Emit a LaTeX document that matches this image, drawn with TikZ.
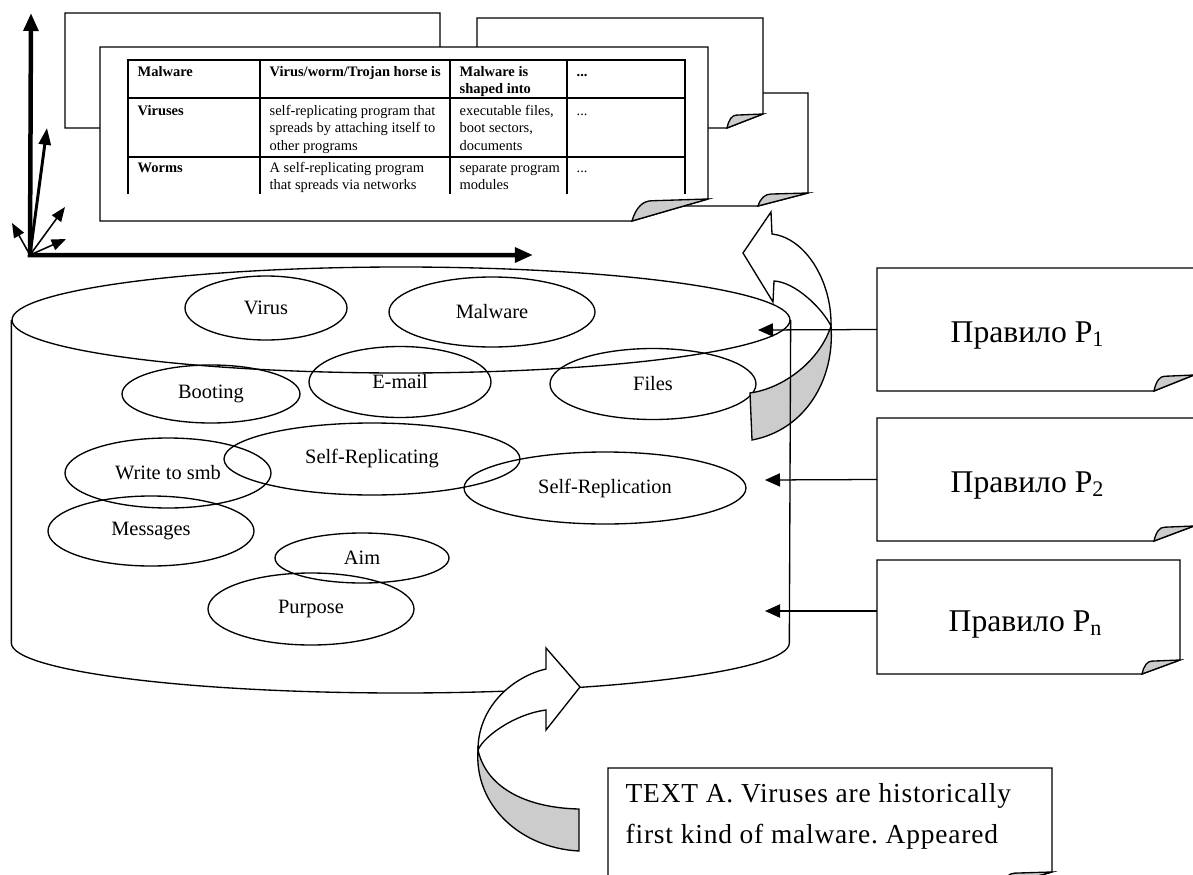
\documentclass[tikz,border=0pt]{standalone}
\usepackage{fontspec}
\setmainfont{Liberation Serif}
\newfontfamily\notefamily[LetterSpace=3]{Liberation Serif}
\usetikzlibrary{arrows.meta,shapes.geometric,calc}
\frenchspacing

\newcommand{\px}{0.025cm}
\newcommand{\termfont}{\fontsize{14.5}{17}\selectfont}
\newcommand{\rulefont}{\fontsize{22.5}{27}\selectfont}
\newcommand{\cellfont}{\fontsize{10.3}{12.54}\selectfont}
\newcommand{\notefont}{\notefamily\fontsize{19.5}{29.8}\selectfont}
\newcommand{\celltext}[1]{\parbox[t]{5cm}{\raggedright #1}}

% sheet with a turned-up corner: #1 node, #2 and #3 size of the fold
\newcommand{\foldedsheet}[3]{%
  \draw[fill=white] (#1.north west) -- (#1.north east)
    -- ($(#1.south east)+(0,-#3)$) -- ($(#1.south east)+(-#2,0)$)
    -- (#1.south west) -- cycle;
  \draw[fill=black!20] ($(#1.south east)+(-#2,0)$)
    .. controls ($(#1.south east)+(-0.95*#2,-0.6*#3)$) and ($(#1.south east)+(-0.86*#2,-0.92*#3)$)
    .. ($(#1.south east)+(-0.74*#2,-0.92*#3)$)
    -- ($(#1.south east)+(0,-#3)$) -- cycle;
}

\begin{document}
\begin{tikzpicture}[x=\px, y=-\px, line width=0.95pt]
  \tikzstyle{term}=[draw, ellipse, inner sep=0pt, font=\termfont]
  \tikzstyle{sheet}=[inner sep=0pt, outer sep=0pt, anchor=north west]
  \tikzstyle{cell}=[anchor=base west, inner sep=0pt, font=\cellfont]
  \tikzstyle{rulelabel}=[anchor=base west, inner sep=0pt, font=\rulefont]
  \tikzstyle{link}=[line width=0.9pt, -{Triangle[length=0.375cm,width=0.33cm]}]
  \tikzstyle{tablerule}=[line width=2pt]

  \useasboundingbox (0,0) rectangle (1193,875);

  % axes in the corner
  \coordinate (o) at (30,255);
  \coordinate (ytop) at (31,13);
  \coordinate (xend) at (533,255);
  \draw[line width=3.2pt, {Triangle[length=0.45cm,width=0.36cm]}-{Triangle[length=0.45cm,width=0.36cm]}]
    (ytop) -- (o) -- (xend);
  \coordinate (d1) at (47,128);
  \draw[line width=2.1pt, -{Triangle[length=0.42cm,width=0.3cm]}] (o) -- (d1);
  \coordinate (d2) at (65,207);
  \coordinate (d3) at (66,239);
  \coordinate (d4) at (12,223);
  \foreach \i in {2,...,4}{
  \draw[line width=1.1pt, -{Triangle[length=0.36cm,width=0.28cm]}] (o) -- (d\i);
  }

  % pile of sheets
  \node[sheet, minimum width=288*\px, minimum height=113*\px] (sheet3) at (520,93) {};
  \foldedsheet{sheet3}{50}{13}
  \node[sheet, minimum width=375*\px, minimum height=115*\px] (sheet1) at (65,13) {};
  \foldedsheet{sheet1}{40}{14}
  \node[sheet, minimum width=286*\px, minimum height=110*\px] (sheet2) at (477,18) {};
  \foldedsheet{sheet2}{36}{14}
  \node[sheet, minimum width=608*\px, minimum height=174*\px] (front) at (100,47) {};
  \foldedsheet{front}{76}{22}

  % table on the front sheet
  \draw[tablerule] (128,194) -- (128,60) -- (685,60) -- (685,194);
  \foreach \x in {260,450,567}
  \draw[tablerule] (\x,60) -- (\x,194);
  \foreach \y in {98,157}
  \draw[tablerule] (128,\y) -- (685,\y);
  \begin{scope}
    \clip (120,55) rectangle (690,194);
    \node[cell] (h1) at (137,76) {\bfseries Malware};
    \node[cell] (h2) at (269,76) {\bfseries Virus/worm/Trojan horse is};
    \node[cell] (h3) at (459,76) {\bfseries\celltext{Malware is\\shaped into}};
    \node[cell] (h4) at (576,76) {\bfseries ...};
    \node[cell] (v1) at (137,115) {\bfseries Viruses};
    \node[cell] (v2) at (269,115) {\celltext{self-replicating program that\\spreads by attaching itself to\\other programs}};
    \node[cell] (v3) at (459,115) {\celltext{executable files,\\boot sectors,\\documents}};
    \node[cell] (v4) at (576,115) {...};
    \node[cell] (w1) at (137,172) {\bfseries Worms};
    \node[cell] (w2) at (269,172) {\celltext{A self-replicating program\\that spreads via networks}};
    \node[cell] (w3) at (459,172) {\celltext{separate program\\modules}};
    \node[cell] (w4) at (576,172) {...};
  \end{scope}

  % terms kept in the store
  \node[term, minimum width=162*\px, minimum height=64*\px] (virus) at (266,308) {Virus};
  \node[term, minimum width=206*\px, minimum height=70*\px] (malware) at (492,312) {Malware};
  \node[term, minimum width=178*\px, minimum height=58*\px] (booting) at (211,394) {Booting};
  \node[term, minimum width=182*\px, minimum height=71*\px] (email) at (400,382) {E-mail};
  \node[term, minimum width=206*\px, minimum height=71*\px] (files) at (653,384) {Files};
  \node[term, minimum width=206*\px, minimum height=70*\px] (writesmb) at (168,473) {Write to smb};
  \node[term, minimum width=296*\px, minimum height=72*\px] (selfrepl) at (372,459) {Self-Replicating};
  \node[term, minimum width=282*\px, minimum height=72*\px] (selfrepn) at (605,488) {Self-Replication};
  \node[term, minimum width=206*\px, minimum height=70*\px] (messages) at (151,531) {Messages};
  \node[term, minimum width=174*\px, minimum height=50*\px] (aim) at (362,558) {Aim};
  \node[term, minimum width=206*\px, minimum height=72*\px] (purpose) at (311,609) {Purpose};

  % curled arrow behind the store, going up to the sheets
  \draw[fill=white] (771,212) -- (772,234) .. controls (806,238) and (832,282) .. (831,326)
    .. controls (822,308) and (795,282) .. (774,281) -- (773,302) -- (743,253) -- cycle;
  \draw[fill=black!20] (831,326) .. controls (835,380) and (805,430) .. (752,440) -- (750,393)
    .. controls (785,388) and (820,360) .. cycle;

  % the store
  \node[draw, ellipse, inner sep=0pt, minimum width=778*\px, minimum height=106*\px] (dbtop) at (401,320) {};
  \draw (dbtop.west) -- ++(0,323) coordinate (dbleft)
    .. controls +(0,27.6) and +(-214.8,0) .. ++(389,50) coordinate (dbbottom)
    .. controls +(214.8,0) and +(0,27.6) .. ++(389,-50) coordinate (dbright)
    -- (dbtop.east);

  % curled arrow coming from the text
  \draw[fill=white] (580,687) -- (546,648) -- (546,669) .. controls (515,676) and (478,705) .. (478,750)
    .. controls (484,736) and (515,714) .. (546,710) -- (546,730) -- cycle;
  \draw[fill=black!20] (478,750) .. controls (474,805) and (520,848) .. (579,851) -- (579,809)
    .. controls (530,808) and (487,790) .. cycle;

  % rules
  \node[sheet, minimum width=317*\px, minimum height=123*\px] (rule1) at (877,268) {};
  \foldedsheet{rule1}{40}{16}
  \node[rulelabel] (label1) at (950,342) {Правило P\textsubscript{1}};
  \node[sheet, minimum width=317*\px, minimum height=123*\px] (rule2) at (877,418) {};
  \foldedsheet{rule2}{40}{15}
  \node[rulelabel] (label2) at (950,492) {Правило P\textsubscript{2}};
  \node[sheet, minimum width=303*\px, minimum height=114*\px] (rulen) at (877,560) {};
  \foldedsheet{rulen}{38}{14}
  \node[rulelabel] (labeln) at (948,631) {Правило P\textsubscript{n}};

  \coordinate (tip1) at (758,330);
  \coordinate (tip2) at (765,480);
  \coordinate (tipn) at (765,611);
  \draw[link] (rule1.west) -- (tip1);
  \draw[link] (rule2.west) -- (tip2);
  \draw[link] (rulen.west |- tipn) -- (tipn);

  % source text
  \node[sheet, minimum width=444*\px, minimum height=118*\px] (noteA) at (608,768) {};
  \foldedsheet{noteA}{50}{14}
  \node[anchor=base west, inner sep=0pt, font=\notefont] (notetext) at (625,802)
    {\parbox[t]{12cm}{TEXT A. Viruses are historically\\first kind of malware. Appeared}};
\end{tikzpicture}
\end{document}
